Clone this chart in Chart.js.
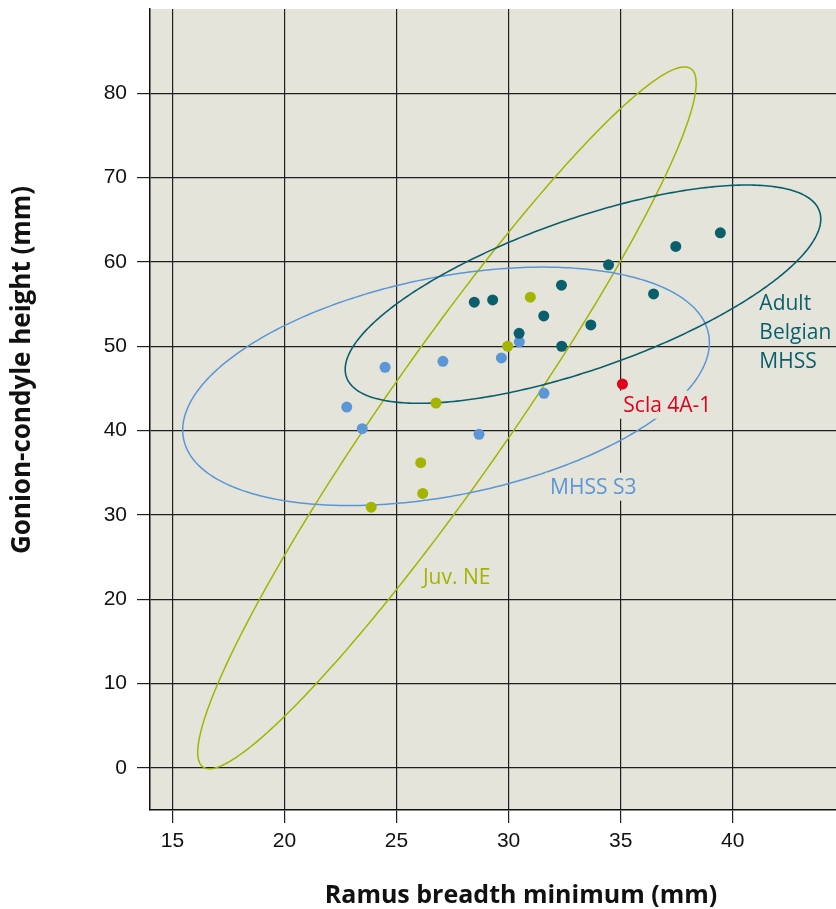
<!DOCTYPE html>
<html>
<head>
<meta charset="utf-8">
<script src="https://cdn.jsdelivr.net/npm/chart.js@4.4.1/dist/chart.umd.min.js"></script>
<style>
  html, body { margin: 0; padding: 0; background: #ffffff; }
  #wrap { width: 836px; height: 909px; }
</style>
</head>
<body>
<div id="wrap"><canvas id="c" width="836" height="909"></canvas></div>
<script>
// Tick labels
const xTicks = [15, 20, 25, 30, 35, 40];
const yTicks = [0, 10, 20, 30, 40, 50, 60, 70, 80];

// Adult Belgian MHSS specimens (ramus breadth min, gonion-condyle height)
const adultX = [28.47, 29.29, 32.36, 31.57, 33.67, 30.47, 32.37, 39.45, 37.46, 34.46, 36.47];
const adultY = [55.23, 55.50, 57.24, 53.60, 52.53, 51.54, 50.00, 63.46, 61.84, 59.66, 56.21];

// MHSS S3 specimens
const s3X = [24.49, 22.78, 23.47, 27.07, 29.68, 30.48, 31.58, 28.68];
const s3Y = [47.51, 42.79, 40.23, 48.22, 48.61, 50.51, 44.42, 39.55];

// Juvenile Neandertals
const juvX = [30.97, 29.96, 26.76, 23.87, 26.08, 26.17];
const juvY = [55.82, 50.00, 43.27, 30.91, 36.19, 32.54];

// Scla 4A-1
const sclaX = [35.08];
const sclaY = [45.52];

// Confidence ellipses: centre and two conjugate semi-diameters (data units)
const adultEllipse = { c: [33.32, 56.18], u: [10.61, 8.91], v: [0, 9.39] };
const s3Ellipse    = { c: [27.21, 45.25], u: [11.75, 5.19], v: [0, 13.15] };
const juvEllipse   = { c: [27.25, 41.51], u: [11.12, 39.67], v: [0, 12.59] };

const TEAL = '#0b5f6c';
const BLUE = '#5b96d6';
const OLIVE = '#a3b500';
const RED = '#e3001b';
const PANEL = '#e4e4da';

const pts = (xs, ys) => xs.map((x, i) => ({ x: x, y: ys[i] }));

const ellipses = [
  { e: juvEllipse, color: OLIVE, width: 1.5 },
  { e: s3Ellipse, color: BLUE, width: 1.5 },
  { e: adultEllipse, color: TEAL, width: 1.6 }
];

const notes = [
  { text: 'Adult', x: 41.19, y: 54.28, color: TEAL, box: false },
  { text: 'Belgian', x: 41.19, y: 50.83, color: TEAL, box: false },
  { text: 'MHSS', x: 41.19, y: 47.47, color: TEAL, box: false },
  { text: 'Scla 4A-1', x: 35.12, y: 42.24, color: RED, box: true },
  { text: 'MHSS S3', x: 31.85, y: 32.51, color: BLUE, box: true },
  { text: 'Juv. NE', x: 26.18, y: 21.85, color: OLIVE, box: false }
];

const panelPlugin = {
  id: 'panel',
  beforeDraw(chart) {
    const { ctx, chartArea: a } = chart;
    ctx.save();
    ctx.fillStyle = PANEL;
    ctx.fillRect(a.left, a.top, a.right - a.left, a.bottom - a.top);
    ctx.restore();
  }
};

const ellipsePlugin = {
  id: 'ellipses',
  beforeDatasetsDraw(chart) {
    const { ctx, chartArea: a, scales } = chart;
    ctx.save();
    ctx.beginPath();
    ctx.rect(a.left, a.top, a.right - a.left, a.bottom - a.top);
    ctx.clip();
    ellipses.forEach(({ e, color, width }) => {
      ctx.beginPath();
      for (let k = 0; k <= 360; k++) {
        const t = k * Math.PI / 180;
        const dx = e.c[0] + e.u[0] * Math.cos(t) + e.v[0] * Math.sin(t);
        const dy = e.c[1] + e.u[1] * Math.cos(t) + e.v[1] * Math.sin(t);
        const px = scales.x.getPixelForValue(dx);
        const py = scales.y.getPixelForValue(dy);
        if (k === 0) ctx.moveTo(px, py); else ctx.lineTo(px, py);
      }
      ctx.closePath();
      ctx.strokeStyle = color;
      ctx.lineWidth = width;
      ctx.stroke();
    });
    ctx.restore();
  }
};

const notesPlugin = {
  id: 'notes',
  afterDatasetsDraw(chart) {
    const { ctx, scales } = chart;
    ctx.save();
    ctx.font = '21px "Open Sans"';
    ctx.textBaseline = 'alphabetic';
    ctx.textAlign = 'left';
    notes.forEach(n => {
      const px = scales.x.getPixelForValue(n.x);
      const py = scales.y.getPixelForValue(n.y);
      if (n.box) {
        const w = ctx.measureText(n.text).width;
        ctx.fillStyle = PANEL;
        ctx.fillRect(px - 5, py - 21, w + 8, 28);
      }
      ctx.fillStyle = n.color;
      ctx.fillText(n.text, px, py);
    });
    ctx.restore();
  }
};

const titlesPlugin = {
  id: 'axisTitles',
  afterDraw(chart) {
    const { ctx } = chart;
    ctx.save();
    ctx.fillStyle = '#111111';
    ctx.font = 'bold 25px "Open Sans"';
    ctx.textAlign = 'center';
    ctx.textBaseline = 'alphabetic';
    ctx.fillText('Ramus breadth minimum (mm)', 521, 903);
    ctx.font = 'bold 26px "Open Sans"';
    ctx.translate(30, 370);
    ctx.rotate(-Math.PI / 2);
    ctx.fillText('Gonion-condyle height (mm)', 0, 0);
    ctx.restore();
  }
};

const gridStyle = {
  color: '#1f1f1f',
  lineWidth: 1.2,
  tickLength: 13,
  tickColor: '#1f1f1f',
  drawOnChartArea: true,
  drawTicks: true
};

// Fixed axis boxes so the plot panel spans x 150..836 and y 9..810
function noPad(s) {
  s.paddingTop = 0;
  s.paddingBottom = 0;
  s.paddingLeft = 0;
  s.paddingRight = 0;
}

new Chart(document.getElementById('c'), {
  type: 'scatter',
  data: {
    datasets: [
      { label: 'Scla 4A-1', data: pts(sclaX, sclaY), backgroundColor: RED },
      { label: 'Adult Belgian MHSS', data: pts(adultX, adultY), backgroundColor: TEAL },
      { label: 'Juv. NE', data: pts(juvX, juvY), backgroundColor: OLIVE },
      { label: 'MHSS S3', data: pts(s3X, s3Y), backgroundColor: BLUE }
    ]
  },
  options: {
    responsive: false,
    devicePixelRatio: 1,
    animation: false,
    layout: { autoPadding: false, padding: { top: 9, right: 0, bottom: 0, left: 0 } },
    elements: { point: { radius: 5.5, hoverRadius: 5.5, borderWidth: 0 } },
    plugins: { legend: { display: false }, tooltip: { enabled: false } },
    scales: {
      x: {
        type: 'linear',
        min: 14,
        max: 44.61,
        afterFit(s) { s.height = 99; noPad(s); },
        afterBuildTicks(s) { s.ticks = xTicks.map(v => ({ value: v })); },
        grid: gridStyle,
        border: { display: true, color: '#111111', width: 1.5 },
        ticks: { color: '#111111', padding: 6, font: { family: 'Liberation Sans', size: 21 } }
      },
      y: {
        type: 'linear',
        min: -5,
        max: 90,
        afterFit(s) { s.width = 150; noPad(s); },
        afterBuildTicks(s) { s.ticks = yTicks.map(v => ({ value: v })); },
        grid: gridStyle,
        border: { display: true, color: '#111111', width: 1.5 },
        ticks: { color: '#111111', padding: 10, font: { family: 'Liberation Sans', size: 21 } }
      }
    }
  },
  plugins: [panelPlugin, ellipsePlugin, notesPlugin, titlesPlugin]
});
</script>
</body>
</html>
